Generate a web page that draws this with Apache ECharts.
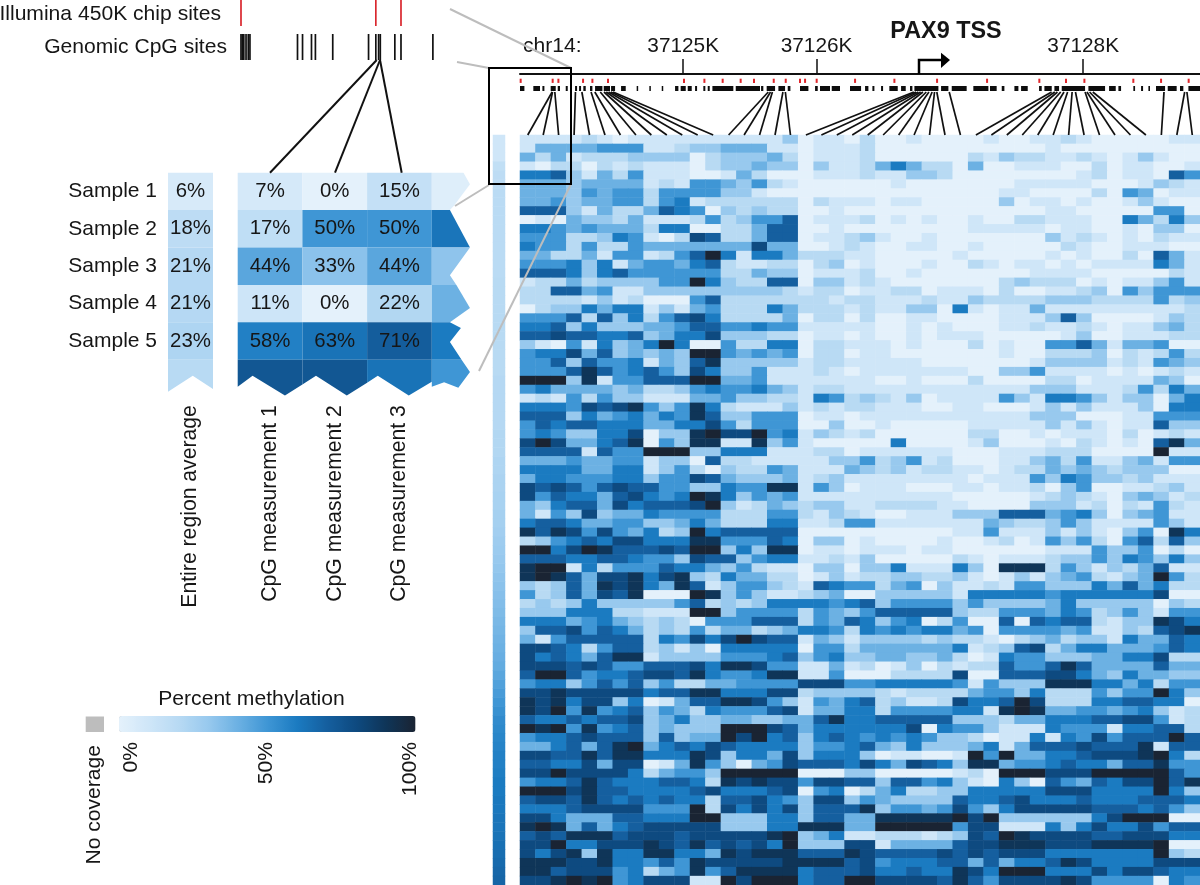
<!DOCTYPE html>
<html>
<head>
<meta charset="utf-8">
<title>PAX9 methylation</title>
<script src="https://cdn.jsdelivr.net/npm/echarts@6/dist/echarts.min.js"></script>
<style>
  html, body { margin: 0; padding: 0; background: #fff; }
  #chart { width: 1200px; height: 885px; }
</style>
</head>
<body>
<div id="chart"></div>
<script>
// methylation per sample (row) and CpG (column): one char per cell, tenths of 100%, a = 100%, x = no coverage
const methylationRows = [
  '111121011111111113011 02001000010011210000011',
  '144445551123344411011 12000000000001000000000',
  '424122233330233342011 12000000213221121013100',
  '102202121110233433031 12464220400111002011001',
  '667314251110014200011 12113320000000012011075',
  '444344441215543521000 00010000000111110001321',
  '444354552555533100000 00000000001100002054011',
  '445344552561222222021 11011000003011010013100',
  '777314224765032322001 00000000000001100000550',
  '010433241112523557011 12010100100221110064263',
  '665454442660022477001 00000000111110110010330',
  '555223651028722477011 23100100000003121010211',
  '655252254444444844001 21001100100000210011100',
  '442241551257a61664222 11000001000001010020741',
  '555636145546721122023 01000100210110101111641',
  '777636755555522433011 12001000000011110000021',
  '12242333355a632277033 12100000002322201011351',
  '227745113333333332122 01122011102001123053555',
  '222213120005722222221 22111211322223332222523',
  '023364661314522264222 12113306101141111111112',
  '555727362578622224022 02001100001113730000132',
  '667363334457755655111 11001010001121121011342',
  '778776673466833322011 01001011100000130011122',
  '310516346a60052266022 11101000201005574144500',
  '56684734343aa54545022 01100000001002223021252',
  '557375561437933333122 11111000000013333121543',
  '555797567538633511121 01111111003351111010121',
  'aaa39155777aa44511111 11001000200002201111430',
  '564444342235655643122 11111111111133311125264',
  '121525331114453322165 23213011115316653133046',
  '666587895359621113121 22111001100013131113066',
  '777364564659733555011 01111111111133300011555',
  '576776664466852555003 00100000111113131011733',
  '565336680339a88a56132 12000000220010111020121',
  '8a8446790539911935100 00060000130001021010794',
  '77771755aaa3366611122 01111110001112220000a11',
  '444544551330722111113 35235120001134251134155',
  '666644661352032254111 43231221101224343233300',
  '466555663558743334123 11111111011153653323111',
  '878757877553365599153 01110001101120350011231',
  '85766478656a963545111 11111110000012321034312',
  '436774867778a31243233 11222211000033312021521',
  '415383446555522255213 21001113337774563034511',
  '677644553346422266112 55111111143223531111531',
  '97985854623a677777000 00000001151113131035096',
  '235676886669955576033 01000010012015352057273',
  'aa68a977787aa36399011 01110110000001115335020',
  '777667765538773566112 13000002101112335365363',
  '9aa162555766435211033 03361116309992531324711',
  '9a9748896893264422013 12233223101313452134a52',
  '323749896497135532176 55245031121553336474622',
  '52374879000a935311234 00333331666665666666800',
  '232363333357232366665 67355553533334633333032',
  '33366622111aa35555254 35777773225554652353155',
  '666456432320555777254 76356025007076772133986',
  '377857642325244234665 26565664505555451132789',
  '41577777265868a877143 13333232210234233164476',
  '887625772313066666055 24444446123782466444576',
  '867647991333355567356 33443342016553334466822',
  '888787557778699855114 12013021227557974444744',
  '7aa756678879655699115 00022228007778864364433',
  '566357573522445555888 55666665153339996646255',
  '889888886779966688233 33212222455362225355a63',
  '989688360147799853154 67231128667a82226677660',
  '98a595673542655578144 66255556619a94455456312',
  '766767783463344334479 66777773332446667788512',
  'a9a5956734333aaa87466 66668065531116555166772',
  '5667877737344a8a67367 656565332011616585777a7',
  '44674 79a46 76876 66635 5 67436 33346 14777 87779 177',
  '88779 79966 69836 64836 6 63011 001a5 a4466 78889 a62',
  '77668 48801 49530 45877 7 68648 76399 45567 66477 955',
  '88a88 88624 553aa aaa00 0 33000 00120 aaa88 8aaaa a75',
  '56679 76667 76298 98858 8 77377 56310 63075 47688 a79',
  'aaa89 77666 67866 67805 6 02462 23366 66688 86666 a63',
  '78879 76767 66277 86538 8 35433 33766 78666 76667 776',
  '66678 88855 5a286 86837 7 79355 45853 68888 87776 753',
  '88644 47766 6aa33 36637 7 44999 99a8a 33333 368aa axx',
  '9a947 46788 88833 36699 9 44aaa aa588 11163 68668 577',
  '78799 97888 78888 89a34 6 11222 12387 a9888 87788 866',
  '88a66 88898 79787 86a33 3 88144 44788 99988 89999 a00',
  '86893 96699 66498 99977 7 98777 78787 88866 66666 a32',
  '99988 96657 59888 88999 9 78566 67747 46679 86666 888',
  '99788 85624 59579 99967 7 78667 66986 aaa66 68688 766',
  '889a9 a5688 811a8 aaa67 7 aa888 87975 88889 85555 065'
]
// per sample average, the narrow strip left of the heatmap
const regionAverage = [10,10,10,16,18,18,19,19,19,19,19,19,19,19,19,19,20,20,20,20,20,20,20,20,20,20,20,21,21,21,21,21,21,22,22,22,23,23,24,24,25,25,26,26,27,28,29,30,31,32,33,34,35,36,37,38,39,40,41,42,44,46,48,50,52,54,55,56,57,58,58,59,60,60,61,61,62,62,63,64,65,66,67,68]

// genome track, in bp from the left edge of the region
const regionStart = 37123776
const regionSpan = 5100
const axisTicks = [37125000, 37126000, 37128000]
const chipSites = [5,245,288,473,543,660,1230,1383,1520,1655,1755,1903,1993,2100,2138,2225,2513,2808,3128,3503,3895,4095,4233,4600,4808,5015]
const cpgRuns = [[0,33],[100,150],[168,183],[230,268],[283,300],[343,358],[413,428],[443,458],[475,493],[525,543],[563,618],[628,675],[683,713],[758,793],[875,885],[970,980],[1063,1073],[1163,1188],[1205,1243],[1258,1288],[1313,1328],[1375,1390],[1408,1423],[1443,1600],[1618,1800],[1808,1825],[1850,1913],[1938,1988],[2008,2028],[2100,2163],[2213,2233],[2250,2325],[2338,2400],[2475,2558],[2588,2613],[2643,2658],[2708,2723],[2770,2833],[2858,2893],[2925,2943],[2958,3138],[3158,3213],[3238,3350],[3400,3513],[3525,3575],[3613,3633],[3708,3738],[3758,3808],[3893,3913],[3933,3988],[4008,4043],[4063,4238],[4263,4388],[4418,4468],[4488,4508],[4600,4613],[4658,4673],[4713,4725],[4770,4838],[4858,4925],[4950,4975],[5013,5100]]
// the CpG that each heatmap column belongs to
const columnSites = [241,244,261,416,464,533,561,602,630,647,664,681,698,1862,1879,1893,1972,1990,2954,2971,2988,3005,3022,3047,3067,3091,3109,3126,3219,3987,4011,4031,4055,4080,4107,4141,4166,4238,4252,4272,4296,4830,4985,5002]

// inset: the boxed part of the track, enlarged
const insetChipSites = [5,246,291]
const insetCpgSites = [5,7.5,10,14,18,21,106,115,131,138,169,233,246,251,254,280,291,348]

// worked example table
const sampleNames = ['Sample 1','Sample 2','Sample 3','Sample 4','Sample 5','']
const averageColumn = ['Entire region average']
const measureColumns = ['CpG measurement 1','CpG measurement 2','CpG measurement 3','']
const sampleAverage = [6,18,21,21,23,20]
const measure1 = [7,17,44,11,58,74]
const measure2 = [0,50,33,0,63,74]
const measure3 = [15,50,44,22,71,63]
const measure4 = [3,62,32,40,60,50]

const colorStops = ['#e4f1fb','#cfe6f8','#b8daf3','#98c9ee','#6cb1e3','#3f96d5','#1b7bc1','#155f9f','#0e4a80','#0f3558','#1a2433']
const font = '"Liberation Sans", Arial, sans-serif'
const ink = '#161616'
const noCoverage = '#bdbdbd'

// torn edges of the table, as fractions of a cell
const tornRight = [
  [[0,0],[.49,0],[.59,.31],[.345,.88],[.28,1],[0,1]],
  [[0,0],[.28,0],[.59,1],[0,1]],
  [[0,0],[.59,0],[.28,.74],[.38,1],[0,1]],
  [[0,0],[.38,0],[.59,.62],[.28,1],[0,1]],
  [[0,0],[.28,0],[.45,.15],[.28,.53],[.46,1],[0,1]],
  [[0,0],[.46,0],[.59,.33],[.41,.75],[.19,.6],[0,.72]]
]
const tornBottom = [
  [[0,0],[1,0],[1,.66],[.73,.96],[.23,.43],[0,.72]],
  [[0,0],[1,0],[1,.615],[.686,.96],[.21,.43],[0,.66]],
  [[0,0],[1,0],[1,.59],[.644,.96],[.165,.43],[0,.615]]
]
const tornAverage = [[0,0],[1,0],[1,.786],[.55,.43],[0,.86]]
const fullCell = [[0,0],[1,0],[1,1],[0,1]]

const heatData = []
methylationRows.forEach((row, y) => {
  row.replace(/\s/g, '').split('').forEach((c, x) => {
    heatData.push([x, y, c === 'x' ? -1 : parseInt(c, 36) * 10])
  })
})
const stripData = regionAverage.map((v, y) => [0, y, v])
const averageData = sampleAverage.map((v, y) => [0, y, v])
const measureData = []
;[measure1, measure2, measure3, measure4].forEach((col, x) => {
  col.forEach((v, y) => measureData.push([x, y, v]))
})

function cellShape(api, outline) {
  const c = api.coord([api.value(0), api.value(1)])
  const s = api.size([1, 1])
  return outline.map(p => [c[0] + (p[0] - .5) * s[0], c[1] + (p[1] - .5) * s[1]])
}

function tableCell(api, outline, labelled) {
  const c = api.coord([api.value(0), api.value(1)])
  const children = [{
    type: 'polygon',
    shape: { points: cellShape(api, outline) },
    style: { fill: api.visual('color') }
  }]
  if (labelled) {
    children.push({
      type: 'text',
      x: c[0], y: c[1],
      style: { text: api.value(2) + '%', align: 'center', verticalAlign: 'middle', fill: ink, font: '20.4px ' + font }
    })
  }
  return { type: 'group', children }
}

function tick(api, x, y0, y1, width, color) {
  const a = api.coord([x, y0])
  const b = api.coord([x, y1])
  return { type: 'rect', shape: { x: a[0] - width / 2, y: a[1], width, height: b[1] - a[1] }, style: { fill: color } }
}

const hiddenValue = (min, max, inverse) => ({ type: 'value', show: false, min, max, inverse: !!inverse })
const hiddenBands = (data, inverse) => ({ type: 'category', show: false, data, inverse: !!inverse })
const heatColumns = methylationRows[0].replace(/\s/g, '').split('').map((c, i) => i)
const heatSamples = methylationRows.map((r, i) => i)

const option = {
  animation: false,
  backgroundColor: '#fff',
  grid: [
    { left: 520, top: 135, width: 680, height: 750 },
    { left: 493, top: 135, width: 12, height: 750 },
    { left: 520, top: 74, width: 680, height: 61 },
    { left: 238.2, top: 0, width: 195.8, height: 60 },
    { left: 168, top: 172.7, width: 45, height: 224.4 },
    { left: 237.7, top: 172.7, width: 258.8, height: 224.4 }
  ],
  xAxis: [
    hiddenBands(heatColumns),
    hiddenBands([0]),
    {
      type: 'value', position: 'top', min: regionStart, max: regionStart + regionSpan,
      splitLine: { show: false },
      axisLine: { show: true, lineStyle: { color: '#111', width: 2 } },
      axisTick: { show: true, customValues: axisTicks, length: 15, lineStyle: { color: '#111', width: 1.5 } },
      axisLabel: {
        show: true, customValues: axisTicks, margin: 17, color: ink, fontFamily: font, fontSize: 20.8,
        formatter: v => (v / 1000) + 'K'
      }
    },
    { type: 'value', show: false, min: 0, max: 350 },
    {
      type: 'category', data: averageColumn,
      axisLine: { show: false }, axisTick: { show: false },
      axisLabel: { rotate: 90, margin: 8, color: ink, fontFamily: font, fontSize: 21.2, interval: 0 }
    },
    {
      type: 'category', data: measureColumns,
      axisLine: { show: false }, axisTick: { show: false },
      axisLabel: { rotate: 90, margin: 8, color: ink, fontFamily: font, fontSize: 21.2, interval: 0 }
    }
  ].map((a, i) => Object.assign(a, { gridIndex: i })),
  yAxis: [
    hiddenBands(heatSamples, true),
    hiddenBands(heatSamples, true),
    hiddenValue(0, 61, true),
    hiddenValue(0, 60, true),
    {
      type: 'category', data: sampleNames, inverse: true,
      axisLine: { show: false }, axisTick: { show: false },
      axisLabel: { margin: 11, color: ink, fontFamily: font, fontSize: 21, interval: 0 }
    },
    { type: 'category', show: false, data: sampleNames, inverse: true }
  ].map((a, i) => Object.assign(a, { gridIndex: i })),
  visualMap: {
    type: 'continuous', min: 0, max: 100, dimension: 2, seriesIndex: [0, 1, 5, 6],
    orient: 'horizontal', left: 119, top: 716, itemWidth: 16, itemHeight: 296.5,
    text: null, showLabel: false, calculable: false, hoverLink: false, padding: 0,
    inRange: { color: colorStops },
    outOfRange: { color: noCoverage }
  },
  series: [
    {
      type: 'heatmap', xAxisIndex: 0, yAxisIndex: 0, data: heatData, silent: true, progressive: 0,
      itemStyle: { borderWidth: 0 }
    },
    {
      type: 'heatmap', xAxisIndex: 1, yAxisIndex: 1, data: stripData, silent: true,
      itemStyle: { borderWidth: 0 }
    },
    {
      // illumina sites
      type: 'custom', xAxisIndex: 2, yAxisIndex: 2, silent: true, clip: false,
      data: chipSites.map(s => [regionStart + s]),
      renderItem: (p, api) => tick(api, api.value(0), 4.7, 8.9, 2, '#e0262b')
    },
    {
      // CpG clusters
      type: 'custom', xAxisIndex: 2, yAxisIndex: 2, silent: true, clip: false,
      data: cpgRuns.map(r => [regionStart + r[0], regionStart + r[1]]),
      renderItem: (p, api) => {
        const a = api.coord([api.value(0), 12])
        const b = api.coord([api.value(1), 17])
        return { type: 'rect', shape: { x: a[0], y: a[1], width: Math.max(b[0] - a[0], 1.5), height: b[1] - a[1] }, style: { fill: '#0d0d0d' } }
      }
    },
    {
      // site to column links
      type: 'custom', xAxisIndex: 2, yAxisIndex: 2, silent: true, clip: false,
      data: columnSites.map((s, i) => [regionStart + s, regionStart + (i + .5) * regionSpan / 44]),
      renderItem: (p, api) => {
        const a = api.coord([api.value(0), 18])
        const b = api.coord([api.value(1), 61])
        return { type: 'line', shape: { x1: a[0], y1: a[1], x2: b[0], y2: b[1] }, style: { stroke: '#111', lineWidth: 1.7 } }
      }
    },
    {
      type: 'custom', xAxisIndex: 4, yAxisIndex: 4, silent: true, clip: false, data: averageData,
      renderItem: (p, api) => tableCell(api, api.value(1) === 5 ? tornAverage : fullCell, api.value(1) < 5)
    },
    {
      type: 'custom', xAxisIndex: 5, yAxisIndex: 5, silent: true, clip: false, data: measureData,
      renderItem: (p, api) => {
        const x = api.value(0), y = api.value(1)
        const outline = x === 3 ? tornRight[y] : (y === 5 ? tornBottom[x] : fullCell)
        return tableCell(api, outline, x < 3 && y < 5)
      }
    },
    {
      type: 'custom', xAxisIndex: 3, yAxisIndex: 3, silent: true, clip: false,
      data: insetChipSites.map(s => [s]),
      renderItem: (p, api) => tick(api, api.value(0), 0, 26, 1.7, '#d9272e')
    },
    {
      type: 'custom', xAxisIndex: 3, yAxisIndex: 3, silent: true, clip: false,
      data: insetCpgSites.map(s => [s]),
      renderItem: (p, api) => tick(api, api.value(0), 34, 60, 1.7, '#111')
    }
  ],
  graphic: { elements: [
    label('Illumina 450K chip sites', 221, 14, 'right'),
    label('Genomic CpG sites', 227, 47, 'right'),
    label('chr14:', 523, 46, 'left'),
    { type: 'text', x: 946, y: 32, z: 10, style: { text: 'PAX9 TSS', align: 'center', verticalAlign: 'middle', fill: ink, font: 'bold 23.4px ' + font } },
    label('Percent methylation', 251.5, 699, 'center'),
    rotated('0%', 131, 742),
    rotated('50%', 266, 742),
    rotated('100%', 410, 742),
    rotated('No coverage', 94, 745),
    { type: 'rect', z: 10, shape: { x: 85.7, y: 716.5, width: 18.3, height: 15.5 }, style: { fill: noCoverage } },
    line(376.7, 60, 270, 172.7, '#111', 2),
    line(380, 60, 335, 172.7, '#111', 2),
    line(380, 60, 401.7, 172.7, '#111', 2),
    line(450, 9, 571, 68, noCoverage, 2),
    line(457, 62, 489, 68, noCoverage, 2),
    line(571, 184, 479, 371, noCoverage, 2),
    line(489, 185, 455, 206, noCoverage, 2),
    { type: 'rect', z: 11, shape: { x: 489, y: 68, width: 82, height: 116 }, style: { fill: null, stroke: '#000', lineWidth: 2 } },
    { type: 'polyline', z: 11, shape: { points: [[919, 74], [919, 60], [942, 60]] }, style: { fill: null, stroke: '#000', lineWidth: 2.5 } },
    { type: 'polygon', z: 11, shape: { points: [[941, 52.7], [950, 60], [941, 68]] }, style: { fill: '#000' } }
  ] }
}

function label(text, x, y, align) {
  return { type: 'text', x, y, z: 10, style: { text, align, verticalAlign: 'middle', fill: ink, font: '21.1px ' + font } }
}
function rotated(text, x, y) {
  return { type: 'text', x, y, z: 10, rotation: Math.PI / 2, style: { text, align: 'right', verticalAlign: 'middle', fill: ink, font: '21.1px ' + font } }
}
function line(x1, y1, x2, y2, stroke, lineWidth) {
  return { type: 'line', z: 10, shape: { x1, y1, x2, y2 }, style: { stroke, lineWidth } }
}

const myChart = echarts.init(document.getElementById('chart'), null, { renderer: 'canvas' })
myChart.setOption(option)
</script>
</body>
</html>
